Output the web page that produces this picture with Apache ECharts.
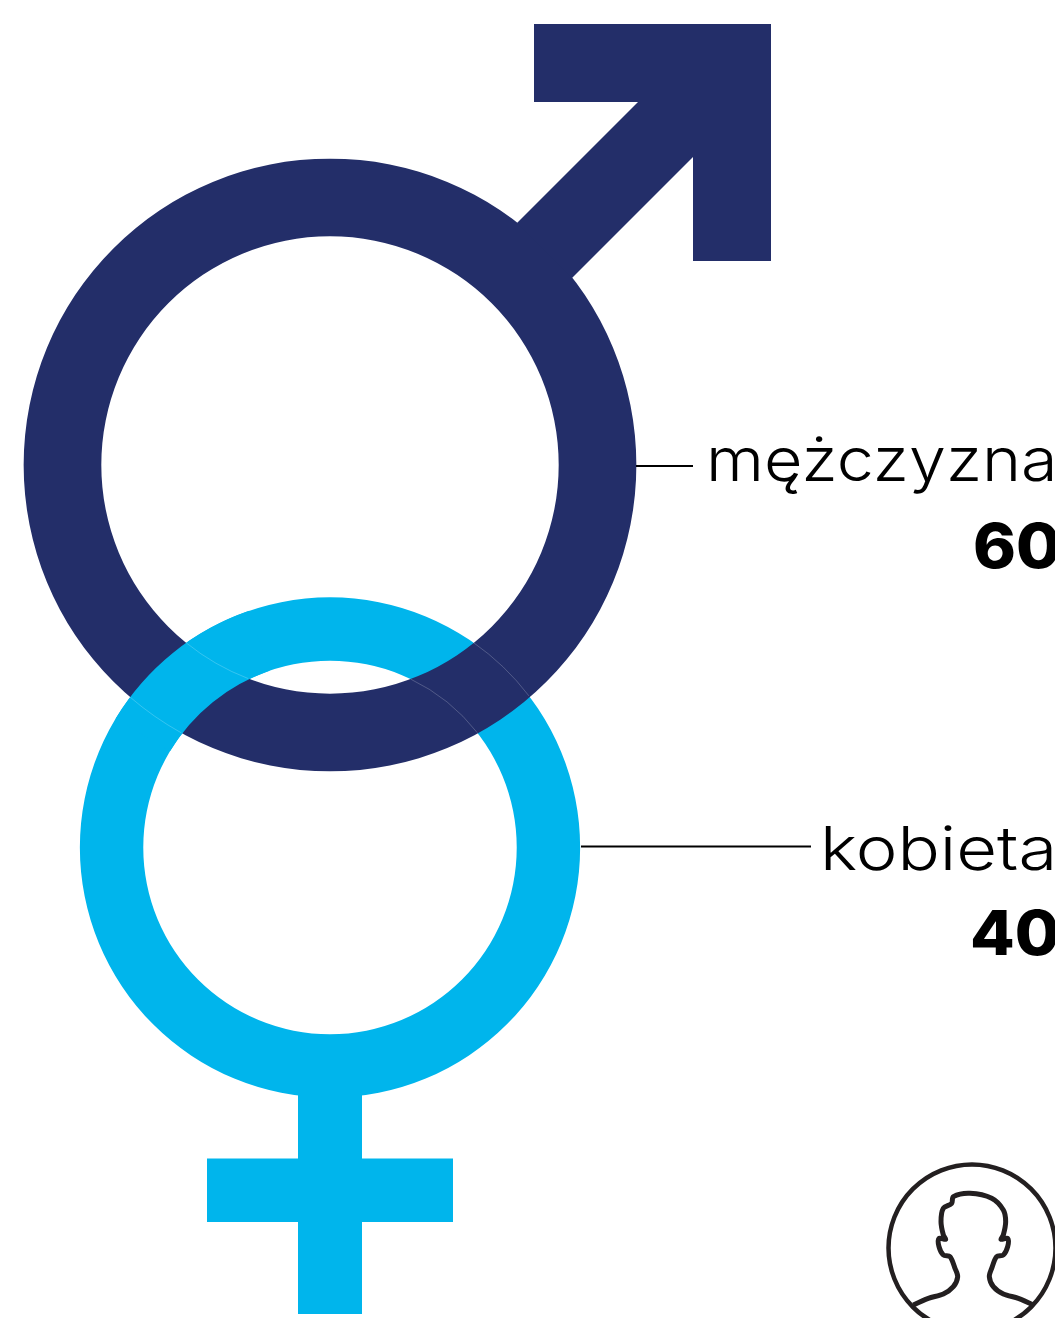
<!DOCTYPE html>
<html>
<head>
<meta charset="utf-8">
<style>
  html, body { margin: 0; padding: 0; background: #fff; }
  #genderChart { width: 1055px; height: 1318px; overflow: hidden; }
</style>
</head>
<body>
<div id="genderChart"></div>
<script src="https://cdn.jsdelivr.net/npm/echarts@6/dist/echarts.min.js"></script>
<script>
const genderLabels = ['mężczyzna', 'kobieta']
const genderValues = [60, 40]

const NAVY = '#232e69'
const CYAN = '#00b5ec'
const INK = '#000000'
// ring area follows the value, so radius goes with the square root
const RADIUS_PER_ROOT = 39.55
const INNER_RATIO = 0.7465
const MALE_CENTER = [330, 465]
const FEMALE_CENTER = [330, 847.5]
const LABEL_FONT = 'Inter, "Noto Sans", sans-serif'

function outerRadius(value) {
  return RADIUS_PER_ROOT * Math.sqrt(value)
}

function toPixels(api, points) {
  return points.map(function (p) { return api.coord(p) })
}

function renderFemale(params, api) {
  const c = api.coord(FEMALE_CENTER)
  const r = outerRadius(api.value(2))
  return {
    type: 'group',
    children: [
      { type: 'ring', shape: { cx: c[0], cy: c[1], r: r, r0: r * INNER_RATIO }, style: { fill: CYAN } },
      { type: 'rect', shape: { x: 298, y: 1085, width: 64, height: 229 }, style: { fill: CYAN } },
      { type: 'rect', shape: { x: 207, y: 1158.5, width: 246, height: 63.5 }, style: { fill: CYAN } }
    ]
  }
}

function renderMale(params, api) {
  const c = api.coord(MALE_CENTER)
  const r = outerRadius(api.value(2))
  return {
    type: 'group',
    children: [
      { type: 'ring', shape: { cx: c[0], cy: c[1], r: r, r0: r * INNER_RATIO }, style: { fill: NAVY } },
      {
        type: 'polygon',
        shape: {
          points: toPixels(api, [[517, 223], [638, 102], [534, 102], [534, 24], [771, 24],
            [771, 261], [693, 261], [693, 157], [572, 278]])
        },
        style: { fill: NAVY }
      }
    ]
  }
}

// left crossing: the cyan ring runs over the navy one, right crossing stays navy on top
function renderCrossing(params, api) {
  const f = api.coord(FEMALE_CENTER)
  const m = api.coord(MALE_CENTER)
  const rm = outerRadius(genderValues[0])
  const rf = outerRadius(genderValues[1])
  const seam = function (c, r, a0, a1, color) {
    return {
      type: 'arc',
      shape: { cx: c[0], cy: c[1], r: r, startAngle: a0, endAngle: a1, clockwise: true },
      style: { fill: 'none', stroke: color, lineWidth: 0.7, opacity: 0.3 }
    }
  }
  return {
    type: 'group',
    children: [
      {
        type: 'sector',
        shape: { cx: f[0], cy: f[1], r: rf, r0: rf * INNER_RATIO, startAngle: -2.6, endAngle: -1.9, clockwise: true },
        style: { fill: CYAN }
      },
      seam(m, rm * INNER_RATIO, 1.936, 2.25, '#ffffff'),
      seam(m, rm, 2.077, 2.283, '#ffffff'),
      seam(f, rf, -0.962, -0.651, '#ffffff'),
      seam(f, rf * INNER_RATIO, -1.125, -0.663, '#ffffff')
    ]
  }
}

function leaderAndLabel(api, lineFrom, lineTo, labelX, labelY, nameScale, valueX, valueY, valueScale) {
  const a = api.coord(lineFrom)
  const b = api.coord(lineTo)
  const name = genderLabels[api.value(0)]
  const value = String(api.value(2))
  return {
    type: 'group',
    children: [
      { type: 'line', shape: { x1: a[0], y1: a[1], x2: b[0], y2: b[1] }, style: { stroke: INK, lineWidth: 2 } },
      {
        type: 'text', x: labelX, y: labelY, scaleX: nameScale,
        style: { text: name, fontFamily: LABEL_FONT, fontSize: 61, fontWeight: 300, fill: INK, textAlign: 'left', textVerticalAlign: 'middle' }
      },
      {
        type: 'text', x: valueX, y: valueY, scaleX: valueScale,
        style: { text: value, fontFamily: LABEL_FONT, fontSize: 62, fontWeight: 800, fill: INK, textAlign: 'left', textVerticalAlign: 'middle' }
      }
    ]
  }
}

function renderLabels(params, api) {
  if (api.value(0) === 0) {
    return leaderAndLabel(api, [636, 466], [693, 466], 706, 463, 1.09, 973, 549, 1.05)
  }
  return leaderAndLabel(api, [581, 846.5], [811, 846.5], 820, 852, 1.155, 970, 936, 1.05)
}

// small person icon in the bottom corner
function renderPerson() {
  const head = [[285, 130], [350, 145], [385, 180], [392, 215], [385, 255], [378, 268], [398, 265], [398, 290],
    [385, 315], [365, 320], [350, 355], [343, 380], [355, 410], [385, 432], [430, 445], [475, 465]]
  const left = [[115, 465], [160, 445], [205, 432], [235, 410], [248, 380], [240, 355], [225, 320], [205, 315],
    [192, 290], [192, 265], [212, 268], [205, 255], [198, 215], [205, 175], [230, 160], [235, 140], [285, 130]]
  const outline = left.concat(head.slice(1)).map(function (p) {
    return [875 + p[0] / 3, 1150 + p[1] / 3]
  })
  return {
    type: 'group',
    children: [
      { type: 'circle', shape: { cx: 972, cy: 1248, r: 83.5 }, style: { fill: 'none', stroke: '#231f20', lineWidth: 4.5 } },
      { type: 'polyline', shape: { points: outline, smooth: 0.3 }, style: { fill: 'none', stroke: '#231f20', lineWidth: 5 } }
    ]
  }
}

const chartInstance = echarts.init(document.getElementById('genderChart'), null, { renderer: 'canvas' })
const maleRow = [[0, 0, genderValues[0]]]
const femaleRow = [[1, 0, genderValues[1]]]

chartInstance.setOption({
  animation: false,
  backgroundColor: '#ffffff',
  grid: { left: 0, right: 0, top: 0, bottom: 0 },
  xAxis: { type: 'value', min: 0, max: 1055, show: false },
  yAxis: { type: 'value', min: 0, max: 1318, inverse: true, show: false },
  series: [
    { name: genderLabels[1], type: 'custom', coordinateSystem: 'cartesian2d', clip: false, z: 1, data: femaleRow, renderItem: renderFemale },
    { name: genderLabels[0], type: 'custom', coordinateSystem: 'cartesian2d', clip: false, z: 2, data: maleRow, renderItem: renderMale },
    { name: 'crossing', type: 'custom', coordinateSystem: 'cartesian2d', clip: false, z: 3, data: femaleRow, renderItem: renderCrossing },
    { name: 'labels', type: 'custom', coordinateSystem: 'cartesian2d', clip: false, z: 4, data: maleRow.concat(femaleRow), renderItem: renderLabels },
    { name: 'person', type: 'custom', coordinateSystem: 'cartesian2d', clip: false, z: 4, data: [[0, 0, 0]], renderItem: renderPerson }
  ]
})
</script>
</body>
</html>
